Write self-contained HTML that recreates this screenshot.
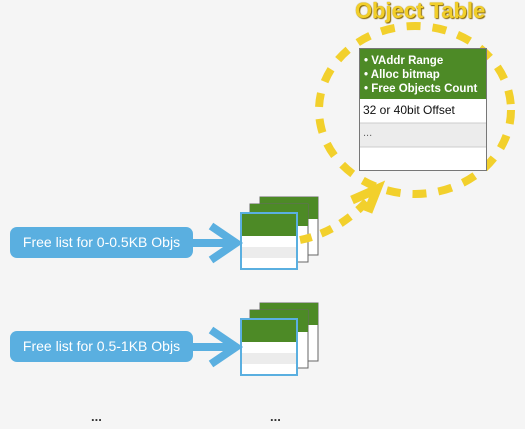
<!DOCTYPE html>
<html><head><style>
body{margin:0;width:525px;height:429px;background:#f5f5f5;overflow:hidden;font-family:"Liberation Sans",sans-serif;position:relative}
.a{position:absolute;box-sizing:border-box}
.pill{position:absolute;left:10px;width:183px;height:31px;background:#5aafe0;border-radius:7px;color:#fff;font-size:14px;line-height:31px;text-align:center}
</style></head><body>
<svg class="a" style="left:0;top:0" width="525" height="429">
<g id="s1">
<rect x="260" y="197" width="58" height="58" fill="#fff" stroke="#666" stroke-width="1"/>
<rect x="260" y="197" width="58" height="22" fill="#4d8a26"/>
<rect x="250" y="204" width="58" height="58" fill="#fff" stroke="#666" stroke-width="1"/>
<rect x="250" y="204" width="58" height="22" fill="#4d8a26"/>
<rect x="241" y="213" width="56" height="56" fill="#fff" stroke="#5aafe0" stroke-width="2"/>
<rect x="242" y="214" width="54" height="22" fill="#4d8a26"/>
<rect x="242" y="247" width="54" height="11" fill="#ececec"/>
</g>
<use href="#s1" y="106"/>
<g stroke="#5aafe0" stroke-width="8" fill="none">
<line x1="190" y1="243" x2="236" y2="243"/>
<polyline points="211,226 236,243 211,260"/>
<line x1="190" y1="347" x2="236" y2="347"/>
<polyline points="211,330 236,347 211,364"/>
</g>
<g stroke="#f2d02c" stroke-width="8" fill="none">
<ellipse cx="415" cy="110" rx="96" ry="84" stroke-dasharray="14 12"/>
<path d="M300 240 Q340 232 372 196" stroke-dasharray="12 10"/>
<polyline points="352,200 377,189 368,212" stroke-width="9"/>
</g>
<rect x="359.5" y="48.5" width="127" height="122" fill="#fff" stroke="#777"/>
<rect x="360" y="49" width="126" height="50" fill="#4d8a26"/>
<rect x="360" y="123" width="126" height="24" fill="#ececec"/>
<line x1="360" y1="123" x2="486" y2="123" stroke="#ccc"/>
<line x1="360" y1="147" x2="486" y2="147" stroke="#ccc"/>
</svg>
<div class="a" style="left:364px;top:54px;color:#fff;font-weight:bold;font-size:11.5px;line-height:14px">• VAddr Range<br>• Alloc bitmap<br>• Free Objects Count</div>
<div class="a" style="left:363px;top:103px;font-size:12px;color:#111">32 or 40bit Offset</div>
<div class="a" style="left:363px;top:127px;font-size:11px;color:#666">...</div>
<div class="a" style="left:355px;top:-2px;font-size:22px;font-weight:bold;color:#f2cf2a;text-shadow:0 0 1px #a08000,1px 1px 1px #806000">Object Table</div>
<div class="pill" style="top:227px">Free list for 0-0.5KB Objs</div>
<div class="pill" style="top:331px">Free list for 0.5-1KB Objs</div>
<div class="a" style="left:91px;top:409px;font-size:13px;font-weight:bold;color:#333">...</div>
<div class="a" style="left:270px;top:409px;font-size:13px;font-weight:bold;color:#333">...</div>
</body></html>
